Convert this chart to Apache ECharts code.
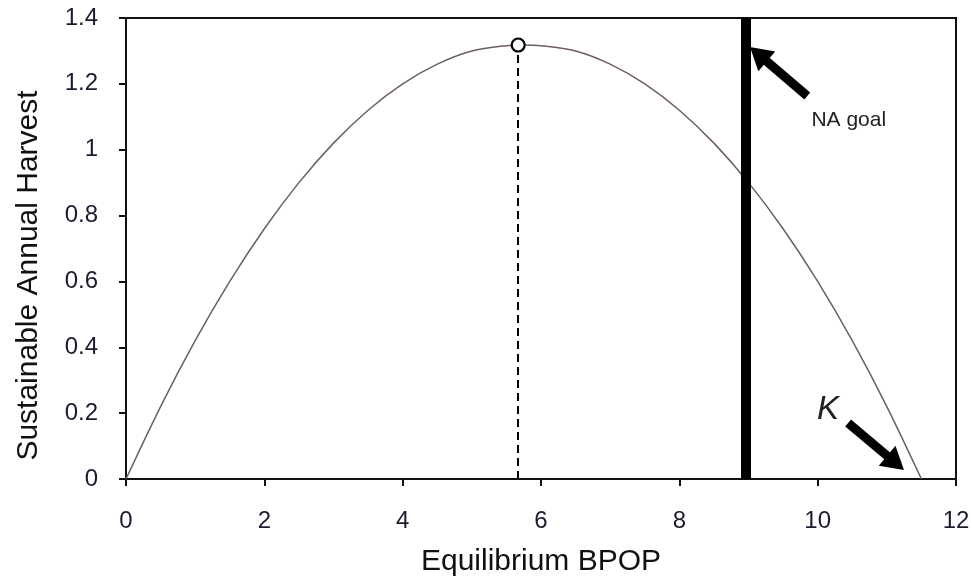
<!DOCTYPE html>
<html>
<head>
<meta charset="utf-8">
<script src="https://cdn.jsdelivr.net/npm/echarts/dist/echarts.min.js"></script>
<style>
  html, body { margin: 0; padding: 0; background: #fff; }
  #chart { width: 972px; height: 579px; }
</style>
</head>
<body>
<div id="chart"></div>
<script>
// values
const bpop = [0, 0.5, 1, 1.5, 2, 2.5, 3, 3.5, 4, 4.5, 5, 5.5, 5.75, 6, 6.5, 7, 7.5, 8, 8.5, 9, 9.5, 10, 10.5, 11, 11.5];
const harvest = [0, 0.22, 0.42, 0.6, 0.76, 0.9, 1.02, 1.12, 1.2, 1.26, 1.3, 1.316, 1.318, 1.316, 1.3, 1.26, 1.2, 1.12, 1.02, 0.9, 0.76, 0.6, 0.42, 0.22, 0];
const peak = [5.67, 1.318];
const naGoal = 8.96;
const xTicks = [0, 2, 4, 6, 8, 10, 12];
const yTicks = [0, 0.2, 0.4, 0.6, 0.8, 1, 1.2, 1.4];

const FONT = "Liberation Sans, Arial, sans-serif";
const LABEL_COLOR = "#1c1c30";

const myChart = echarts.init(document.getElementById("chart"));

// thick arrow: shaft ends at the triangle's centre, triangle tip lands on the target
const arrowLine = (from, to) => [
  { coord: from, symbol: "none", lineStyle: { color: "#000", width: 9, type: "solid", cap: "butt" } },
  { coord: to, symbol: "triangle", symbolSize: [26, 22] }
];

myChart.setOption({
  backgroundColor: "#fff",
  animation: false,
  grid: {
    left: 126,
    right: 16,
    top: 18,
    bottom: 100,
    containLabel: false,
    outerBoundsMode: "none",
    show: true,
    borderColor: "#111",
    borderWidth: 2,
    backgroundColor: "transparent"
  },
  xAxis: {
    type: "value",
    min: xTicks[0],
    max: xTicks[xTicks.length - 1],
    interval: 2,
    name: "Equilibrium BPOP",
    nameLocation: "middle",
    nameGap: 68,
    nameTextStyle: { fontFamily: FONT, fontSize: 30, color: "#111" },
    axisLine: { lineStyle: { color: "#111", width: 2 } },
    axisTick: { show: true, length: 7, lineStyle: { color: "#111", width: 2 } },
    splitLine: { show: false },
    axisLabel: { fontFamily: FONT, fontSize: 24, color: LABEL_COLOR, margin: 30 }
  },
  yAxis: {
    type: "value",
    min: yTicks[0],
    max: yTicks[yTicks.length - 1],
    interval: 0.2,
    name: "Sustainable Annual Harvest",
    nameLocation: "middle",
    nameGap: 82,
    nameTextStyle: { fontFamily: FONT, fontSize: 30, color: "#111", padding: [0, 54, 0, 0] },
    axisLine: { lineStyle: { color: "#111", width: 2 } },
    axisTick: { show: true, length: 7, lineStyle: { color: "#111", width: 2 } },
    splitLine: { show: false },
    axisLabel: { fontFamily: FONT, fontSize: 24, color: LABEL_COLOR, margin: 28 }
  },
  series: [
    {
      type: "line",
      data: bpop.map((x, i) => [x, harvest[i]]),
      smooth: 0.3,
      showSymbol: false,
      lineStyle: { color: "#6e5e5e", width: 1.5 },
      z: 3,
      markLine: {
        silent: true,
        symbol: ["none", "none"],
        label: { show: false },
        data: [
          // NA goal
          [
            { xAxis: naGoal, yAxis: 0, lineStyle: { color: "#000", width: 10, type: "solid" } },
            { xAxis: naGoal, yAxis: 1.4 }
          ],
          // dashed line under the peak
          [
            { coord: [peak[0], 0], lineStyle: { color: "#000", width: 2, type: [8, 5] } },
            { coord: [peak[0], peak[1] - 0.02] }
          ],
          arrowLine([9.85, 1.163], [9.143, 1.29]),
          arrowLine([10.44, 0.17], [11.126, 0.049])
        ]
      },
      markPoint: {
        silent: true,
        data: [
          {
            coord: peak,
            symbol: "circle",
            symbolSize: 13,
            itemStyle: { color: "#fff", borderColor: "#000", borderWidth: 2.2 },
            label: { show: false }
          },
          {
            coord: [10.45, 1.09],
            symbol: "circle",
            symbolSize: 0,
            label: { show: true, formatter: "NA goal", fontFamily: FONT, fontSize: 21, color: "#222", position: "inside" }
          },
          {
            coord: [10.15, 0.21],
            symbol: "circle",
            symbolSize: 0,
            label: { show: true, formatter: "K", fontFamily: FONT, fontSize: 33, fontStyle: "italic", color: "#222", position: "inside" }
          }
        ]
      }
    }
  ]
});
</script>
</body>
</html>
